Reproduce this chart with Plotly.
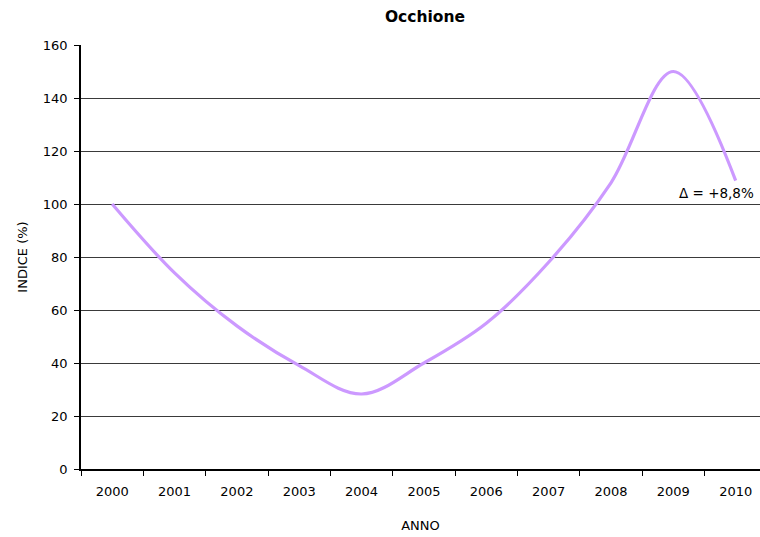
import plotly.graph_objects as go

# Indice annuale della popolazione di Occhione (2000 = 100)
anni = ["2000", "2001", "2002", "2003", "2004", "2005",
        "2006", "2007", "2008", "2009", "2010"]
indice = [100, 74, 54, 39, 28.3, 40, 55, 78, 108, 150, 108.8]
variazione = "Δ = +8,8%"

font_base = "DejaVu Sans, Verdana, sans-serif"

fig = go.Figure()
fig.add_trace(go.Scatter(
    x=anni,
    y=indice,
    mode="lines",
    line=dict(color="#CC99FF", width=3.2, shape="spline", smoothing=1.0),
    hoverinfo="x+y",
    showlegend=False,
))

# etichetta della variazione accanto all'ultimo punto (indice di categoria)
fig.add_annotation(
    x=len(anni) - 1, y=indice[-1],
    xref="x", yref="y",
    text=variazione,
    showarrow=False,
    xanchor="right", yanchor="middle",
    xshift=20, yshift=-12,
    font=dict(family=font_base, size=13.5, color="black"),
)

fig.update_layout(
    width=760, height=537,
    margin=dict(l=81, r=0, t=45, b=68),
    paper_bgcolor="white",
    plot_bgcolor="white",
    title=dict(
        text="<b>Occhione</b>",
        x=425 / 760, xanchor="center",
        y=1 - 17 / 537, yanchor="middle",
        font=dict(family=font_base, size=15.5, color="black"),
    ),
    font=dict(family=font_base, size=13, color="black"),
)

fig.update_xaxes(
    type="category",
    range=[-0.5, 10.39],
    tickson="boundaries",
    ticks="outside", ticklen=5, tickcolor="black", tickwidth=1,
    ticklabelstandoff=10,
    showgrid=False,
    showline=True, linecolor="black", linewidth=1.5,
    tickfont=dict(family=font_base, size=13, color="black"),
    title=dict(text="ANNO", standoff=23,
               font=dict(family=font_base, size=13, color="black")),
    zeroline=False,
)

fig.update_yaxes(
    range=[0, 160],
    tickvals=[0, 20, 40, 60, 80, 100, 120, 140, 160],
    ticks="outside", ticklen=5, tickcolor="black", tickwidth=1,
    ticklabelstandoff=4,
    showgrid=True, gridcolor="#3a3a3a", gridwidth=1,
    showline=True, linecolor="black", linewidth=1.5,
    zeroline=False,
    tickfont=dict(family=font_base, size=13, color="black"),
    title=dict(text="INDICE (%)", standoff=12,
               font=dict(family=font_base, size=13, color="black")),
)

fig.write_html("out.html")
